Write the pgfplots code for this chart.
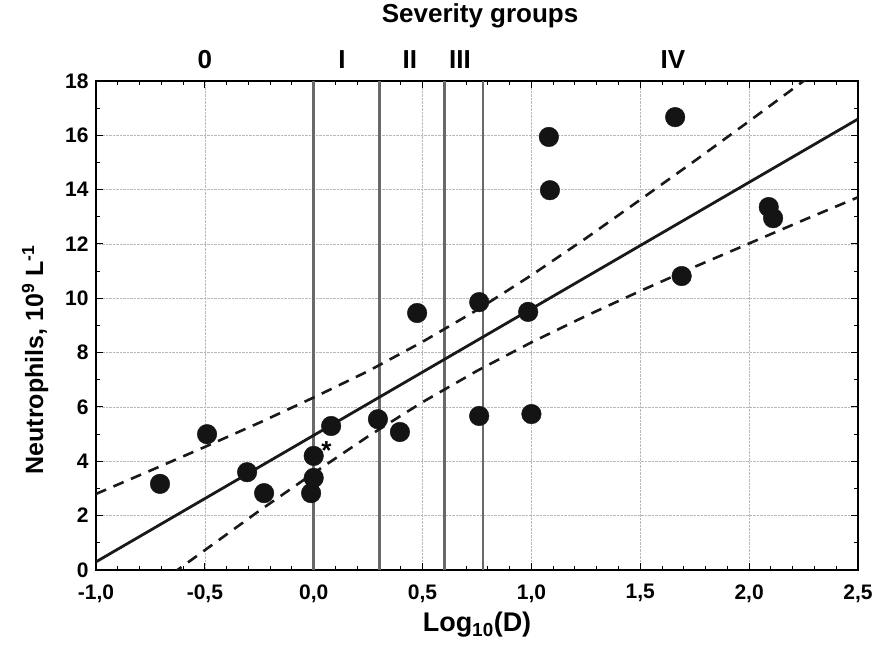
\documentclass[border=0pt]{standalone}
\usepackage{fontspec}
\setmainfont{Liberation Sans}
\usepackage{pgfplots}
\pgfplotsset{compat=1.18}
\newcommand\tickfont{\bfseries\fontsize{21}{21}\selectfont}
\newcommand\labfont{\bfseries\fontsize{26}{26}\selectfont}
\definecolor{vline}{RGB}{105,105,105}
\begin{document}
\begin{tikzpicture}
\begin{axis}[
  scale only axis, width=762pt, height=489pt,
  xmin=-1, xmax=2.5, ymin=0, ymax=18,
  xtick={-1,-0.5,0,0.5,1,1.5,2,2.5},
  ytick={0,2,4,6,8,10,12,14,16,18},
  minor x tick num=4, minor y tick num=1,
  tick align=inside, xtick pos=both, ytick pos=both,
  xticklabel pos=lower, yticklabel pos=left,
  major tick length=7pt, minor tick length=4pt,
  tick style={black, line width=1pt},
  axis line style={line width=1.8pt},
  grid=major,
  major grid style={densely dotted, gray!55, line width=0.7pt},
  /pgf/number format/assume math mode=true,
  xticklabel style={/pgf/number format/fixed, /pgf/number format/fixed zerofill, /pgf/number format/precision=1, /pgf/number format/use comma, yshift=-11pt},
  ticklabel style={font=\tickfont},
  yticklabel style={xshift=-4pt},
  xlabel={Log\textsubscript{10}(D)},
  ylabel={Neutrophils, 10\textsuperscript{9} L\textsuperscript{-1}},
  xlabel style={font=\bfseries\fontsize{27}{27}\selectfont, at={(axis description cs:0.5,-0.112)}, anchor=center},
  ylabel style={font=\bfseries\fontsize{25}{25}\selectfont, at={(axis description cs:-0.08,0.43)}, anchor=center},
  title={Severity groups},
  title style={font=\labfont, at={(axis description cs:0.504,1.121)}, anchor=center},
  clip mode=individual,
]
% severity group boundaries
\addplot[vline, line width=2.6pt] coordinates {(0,0) (0,18)};
\addplot[vline, line width=2.6pt] coordinates {(0.301,0) (0.301,18)};
\addplot[vline, line width=2.6pt] coordinates {(0.602,0) (0.602,18)};
\addplot[vline, line width=2.2pt] coordinates {(0.778,0) (0.778,18)};
% regression line
\addplot[black!90, line width=2.8pt] coordinates {(-1,0.30) (2.5,16.60)};
% confidence bands
\addplot[black!90, line width=2.6pt, dash pattern=on 11pt off 8pt] coordinates {
(-1,2.80)(-0.75,3.66)(-0.5,4.53)(-0.25,5.42)(0,6.35)(0.25,7.32)(0.5,8.40)(0.75,9.57)(1,10.85)(1.25,12.21)(1.5,13.63)(1.75,15.06)(2,16.52)(2.25,18.00)(2.5,19.48)};
\addplot[black!90, line width=2.6pt, dash pattern=on 11pt off 8pt] coordinates {
(-1,-2.20)(-0.75,-0.72)(-0.5,0.73)(-0.25,2.18)(0,3.57)(0.25,4.92)(0.5,6.18)(0.75,7.33)(1,8.38)(1.25,9.35)(1.5,10.27)(1.75,11.16)(2,12.02)(2.25,12.88)(2.5,13.72)};
% data points
\addplot[only marks, mark=*, mark size=9.8pt, black!92] coordinates {
(-0.706,3.17) (-0.49,5.00) (-0.306,3.60) (-0.228,2.83) (-0.012,2.83)
(0.0,3.39) (0.0,4.20) (0.08,5.30) (0.295,5.55) (0.396,5.08)
(0.475,9.46) (0.76,9.86) (0.76,5.67) (0.985,9.50) (1.0,5.74)
(1.08,15.94) (1.085,13.98) (1.66,16.67) (1.69,10.82) (2.09,13.36) (2.11,12.95)};
\node[font=\bfseries\fontsize{26}{26}\selectfont] at (axis cs:0.058,4.40) {*};
% group labels
\node[font=\labfont] at (axis cs:-0.5,18) [yshift=21pt] {0};
\node[font=\labfont] at (axis cs:0.13,18) [yshift=21pt] {I};
\node[font=\labfont] at (axis cs:0.442,18) [yshift=21pt] {II};
\node[font=\labfont] at (axis cs:0.672,18) [yshift=21pt] {III};
\node[font=\labfont] at (axis cs:1.65,18) [yshift=21pt] {IV};
\end{axis}
\pgfresetboundingbox
\path ([shift={(-96pt,-77pt)}]current axis.south west) rectangle ([shift={(16pt,81pt)}]current axis.north east);
\end{tikzpicture}
\end{document}
